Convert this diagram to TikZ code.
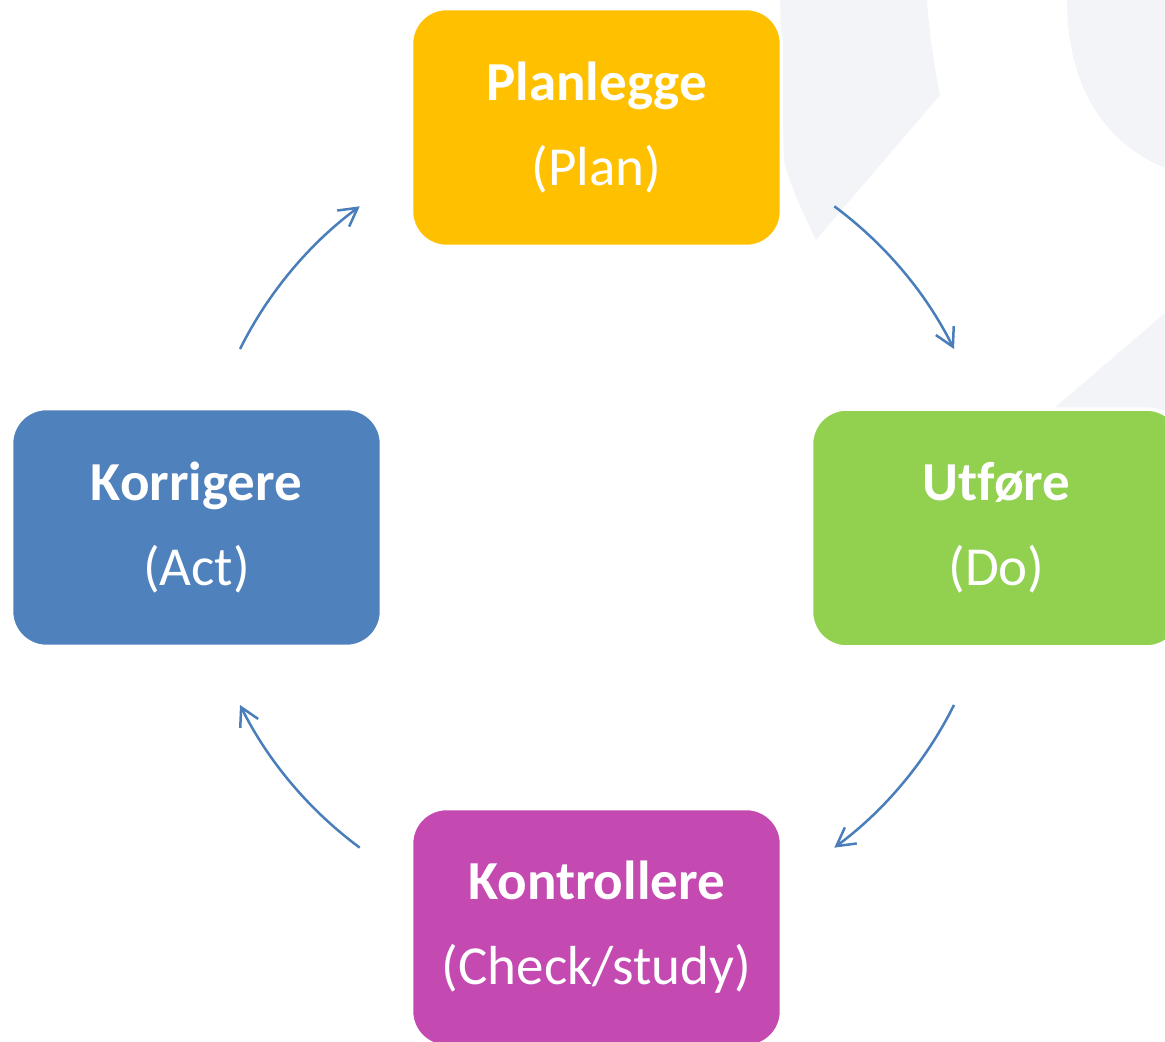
\documentclass[tikz,border=0pt]{standalone}
\usepackage{fontspec}
\setmainfont[Ligatures=NoCommon]{Carlito}
\usetikzlibrary{arrows.meta}

\definecolor{plangold}{RGB}{255,192,0}
\definecolor{dogreen}{RGB}{146,208,80}
\definecolor{checkpink}{RGB}{196,74,178}
\definecolor{actblue}{RGB}{79,129,189}
\definecolor{arrowblue}{RGB}{74,126,187}
\definecolor{markgray}{RGB}{243,244,248}

\begin{document}
\begin{tikzpicture}[x=0.02cm, y=0.02cm,
    phase/.style={draw=white, line width=0.07cm, rounded corners=0.7cm,
        minimum width=7.4cm, minimum height=4.76cm, inner sep=0pt,
        text=white, align=center, font=\fontsize{31.3}{48.4}\selectfont},
    cyc/.style={draw=arrowblue, line width=0.05cm,
        -{Straight Barb[length=0.36cm, width=0.4cm]}}]
    \useasboundingbox (0,0) rectangle (1165,1041);
    \clip (0,0) rectangle (1165,1041);

    % Faint background shapes
    \fill[markgray] (780,1041) -- (927,1041) .. controls (929,1010) and (934,975) .. (940,946)
        -- (816,801) .. controls (802,830) and (790,855) .. (784,880) -- cycle;
    \fill[markgray] (1067,1041) .. controls (1067,960) and (1100,900) .. (1165,873) -- (1165,1041) -- cycle;
    \fill[markgray] (1052,631) -- (1165,728) -- (1165,631) -- cycle;

    % Plan
    \node[phase, fill=plangold] (plan) at (596.5,913.5) {\textbf{Planlegge}\\(Plan)};

    % Do
    \node[phase, fill=dogreen] (do) at (996.5,513) {\textbf{Utføre}\\(Do)};

    % Check
    \node[phase, fill=checkpink] (check) at (596.5,113.5) {\textbf{Kontrollere}\\(Check/study)};

    % Act
    \node[phase, fill=actblue] (act) at (196.5,513.5) {\textbf{Korrigere}\\(Act)};

    % Cycle arrows
    \coordinate (hub) at (597,514);
    \draw[cyc] ([shift={(53.5:7.98cm)}]hub) arc[start angle=53.5, end angle=26.5, radius=7.98cm];
    \draw[cyc] ([shift={(-26.5:7.98cm)}]hub) arc[start angle=-26.5, end angle=-53.5, radius=7.98cm];
    \draw[cyc] ([shift={(-126.5:7.98cm)}]hub) arc[start angle=-126.5, end angle=-153.5, radius=7.98cm];
    \draw[cyc] ([shift={(153.5:7.98cm)}]hub) arc[start angle=153.5, end angle=126.5, radius=7.98cm];
\end{tikzpicture}
\end{document}
